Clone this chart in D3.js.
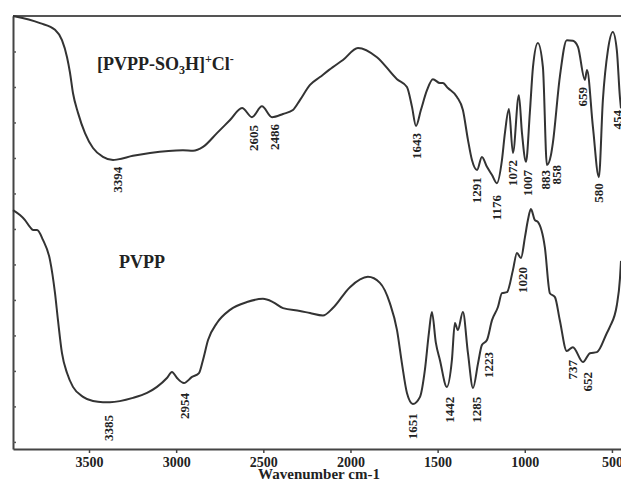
<!DOCTYPE html>
<html>
<head>
<meta charset="utf-8">
<script src="https://cdn.jsdelivr.net/npm/d3@7"></script>
<style>
  body { margin: 0; background: #fff; }
  svg text { font-family: "Liberation Serif", "Times New Roman", serif; font-weight: bold; fill: #222; }
</style>
</head>
<body>
<div id="chart"></div>
<script>
// wavenumber (cm-1) and transmittance-like values
var salWave = [3936,3781,3695,3655,3626,3609,3592,3563,3523,3477,3420,3362,3334,3248,3150,2961,2903,2846,2766,2691,2622,2565,2508,2450,2387,2330,2290,2232,2175,2101,2043,1957,1848,1733,1676,1647,1624,1596,1561,1527,1487,1470,1441,1389,1355,1326,1303,1274,1246,1217,1188,1160,1131,1114,1091,1068,1034,1016,993,971,953,925,896,873,850,839,799,759,724,695,655,643,609,575,552,523,495,472,454,448];
var salValue = [120,118.0,116.1,113.2,108.4,104.0,98.3,92.7,87.0,82.8,80.3,79.4,79.6,80.6,81.4,82.2,82.0,83.1,87.0,90.7,94.1,91.5,94.6,91.5,92.4,93.5,96.3,100.6,102.8,105.6,107.6,111.0,108.4,102.2,100.0,94.4,89.0,93.5,99.1,102.2,101.1,101.1,99.7,97.2,93.5,85.1,79.4,76.6,80.3,77.5,75.2,72.9,79.4,87.0,93.8,81.4,97.7,87.0,78.9,92.7,105.6,112.4,105.6,78.0,80.8,84.2,102.8,113.2,113.0,111.3,102.0,104.8,88.7,74.6,96.3,110.4,115.5,110.4,97.0,94.0];

var pvppWave = [3936,3896,3867,3838,3821,3798,3764,3724,3695,3678,3655,3626,3592,3534,3477,3420,3380,3248,3167,3110,3053,3024,2995,2955,2909,2869,2846,2817,2766,2691,2594,2502,2445,2387,2290,2232,2158,2101,2003,1900,1831,1774,1733,1705,1676,1642,1601,1573,1550,1533,1510,1487,1447,1418,1401,1384,1355,1326,1297,1268,1246,1217,1188,1154,1131,1102,1068,1045,1022,999,982,965,942,925,885,856,827,799,759,724,666,626,586,529,512,472,454,448];
var pvppValue = [65.3,63.9,62.5,60.5,59.7,59.7,56.9,51.3,41.9,34.3,25.0,19.4,15.5,12.7,11.5,11.2,11.2,12.4,13.8,15.5,18.0,19.7,18.0,16.6,18.3,19.4,23.1,28.7,33.5,37.2,39.4,40.3,39.4,37.7,36.9,36.3,35.6,37.7,43.6,46.5,44.8,39.1,31.5,22.2,13.8,10.7,12.7,20.3,30.7,36.6,27.9,23.1,15.5,23.1,33.5,31.5,36.6,25.0,15.2,22.2,27.3,28.7,34.3,38.0,41.9,42.2,48.4,53.2,51.8,57.7,62.5,65.6,62.5,62.0,54.9,41.9,40.8,34.3,25.6,26.7,22.5,25.0,25.3,30.7,32.4,38.5,46.0,51.0];

// peak labels: text, position (cm-1), top of label (value)
var salLabels = ["3394","2605","2486","1643","1291","1176","1072","1007","883","858","659","580","454"];
var salLabelX = [3334,2559,2439,1619,1280,1160,1068,982,879,816,672,575,466];
var salLabelY = [77.5,89.3,89.6,87.0,74.6,69.6,79.4,76.6,76.6,78.0,100.0,72.9,93.5];

var pvppLabels = ["3385","2954","1651","1442","1285","1223","1020","737","652"];
var pvppLabelX = [3391,2955,1647,1435,1280,1206,1016,729,643];
var pvppLabelY = [7.6,13.8,8.1,12.7,12.7,25.3,49.3,23.1,19.7];

var xTicks = [3500,3000,2500,2000,1500,1000,500];
var yTicks = [0,10,20,30,40,50,60,70,80,90,100,110];

var width = 621, height = 480;
var plotLeft = 13, plotRight = 621, plotTop = 16, plotBottom = 449;

var svg = d3.select("#chart").append("svg")
    .attr("width", width)
    .attr("height", height);

var x = d3.scaleLinear().domain([3936, 448]).range([plotLeft, plotRight]);
var y = d3.scaleLinear().domain([-2, 120]).range([plotBottom, plotTop]);

// frame top line
svg.append("line")
    .attr("x1", plotLeft).attr("x2", plotRight)
    .attr("y1", plotTop).attr("y2", plotTop)
    .attr("stroke", "#555").attr("stroke-width", 2);

// bottom axis
var xAxis = svg.append("g")
    .attr("transform", "translate(0," + plotBottom + ")")
    .call(d3.axisBottom(x).tickValues(xTicks).tickSize(4).tickPadding(4).tickSizeOuter(0).tickFormat(d3.format("d")));
xAxis.select(".domain").attr("stroke", "#444").attr("stroke-width", 2);
xAxis.selectAll(".tick line").attr("stroke", "#444").attr("stroke-width", 1.5);
xAxis.selectAll("text").style("font-size", "14px").attr("fill", "#222");

// left axis, inward ticks, no labels
var yAxis = svg.append("g")
    .attr("transform", "translate(" + plotLeft + ",0)")
    .call(d3.axisLeft(y).tickValues(yTicks).tickSize(-3).tickFormat("").tickSizeOuter(0));
yAxis.select(".domain").attr("stroke", "#444").attr("stroke-width", 2);
yAxis.selectAll(".tick line").attr("stroke", "#555").attr("stroke-width", 1.5);

svg.append("text")
    .attr("x", 319).attr("y", 479)
    .attr("text-anchor", "middle")
    .style("font-size", "15px")
    .text("Wavenumber cm-1");

var line = d3.line()
    .x(function(d) { return x(d[0]); })
    .y(function(d) { return y(d[1]); })
    .curve(d3.curveMonotoneX);

function drawSeries(wave, vals) {
  svg.append("path")
      .datum(d3.zip(wave, vals))
      .attr("fill", "none")
      .attr("stroke", "#333")
      .attr("stroke-width", 2)
      .attr("stroke-linejoin", "round")
      .attr("d", line);
}
drawSeries(salWave, salValue);
drawSeries(pvppWave, pvppValue);

function drawLabels(txt, xs, ys) {
  svg.selectAll(null)
      .data(d3.range(txt.length))
    .enter().append("text")
      .attr("transform", function(i) { return "translate(" + x(xs[i]) + "," + y(ys[i]) + ") rotate(-90)"; })
      .attr("text-anchor", "end")
      .attr("dy", "0.35em")
      .style("font-size", "13px")
      .text(function(i) { return txt[i]; });
}
drawLabels(salLabels, salLabelX, salLabelY);
drawLabels(pvppLabels, pvppLabelX, pvppLabelY);

// sample names
var t1 = svg.append("text").attr("x", 97).attr("y", 70).style("font-size", "18px");
t1.append("tspan").text("[PVPP-SO");
t1.append("tspan").attr("dy", 4).style("font-size", "12px").text("3");
t1.append("tspan").attr("dy", -4).text("H]");
t1.append("tspan").attr("dy", -7).style("font-size", "12px").text("+");
t1.append("tspan").attr("dy", 7).text("Cl");
t1.append("tspan").attr("dy", -7).style("font-size", "12px").text("-");

svg.append("text").attr("x", 119).attr("y", 268)
    .style("font-size", "18px")
    .text("PVPP");
</script>
</body>
</html>
